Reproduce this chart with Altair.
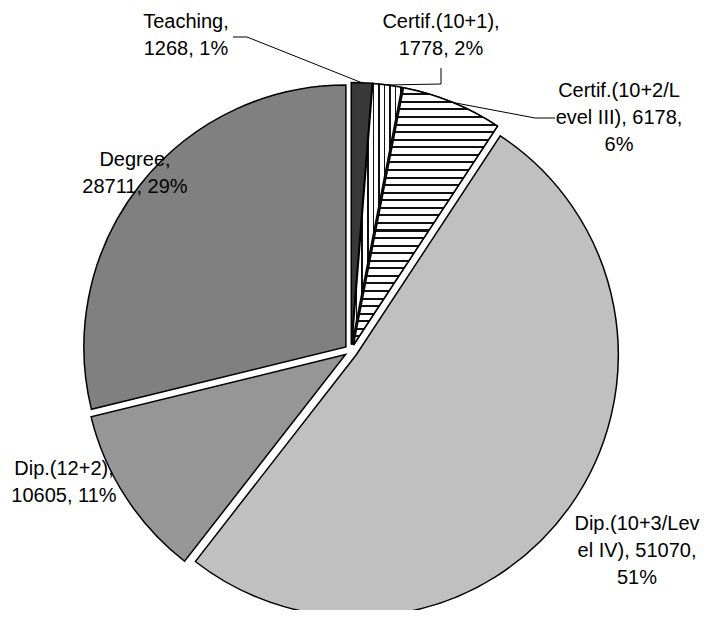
import math
import altair as alt
import pandas as pd

# ---------------- data ----------------
categories = ["Teaching", "Certif.(10+1)", "Certif.(10+2/Level III)",
              "Dip.(10+3/Level IV)", "Dip.(12+2)", "Degree"]
values = [1268, 1778, 6178, 51070, 10605, 28711]

# ---------------- styling / placement ----------------
fills = ["#383838", "#ffffff", "#ffffff", "#c0c0c0", "#969696", "#808080"]
label_breaks = [[9], [14], [14, 30], [13, 27], [11], [7]]
# first-baseline centre of each label, pixels relative to pie centre (up = +)
label_pos = [(-165, 323), (90, 323), (268, 254), (286, -179), (-287, -124), (-216, 185)]
# leader line points from the label side (pixels relative to centre), slice end is computed
leaders = {0: [(-118, 314), (-104, 314)], 1: [(90, 283), (90, 267)], 2: [(204, 233), (184, 233)]}

W, H = 693, 602
CX, CY = 343, 343
R = 262
EXPLODE = 6.5

total = sum(values)
pcts = [round(v / total * 100) for v in values]


def wrap(s, breaks):
    parts, prev = [], 0
    for b in breaks:
        parts.append(s[prev:b].strip())
        prev = b
    parts.append(s[prev:].strip())
    return "\n".join(parts)


df = pd.DataFrame({"cat": categories, "value": values, "order": list(range(len(values)))})

lab = pd.DataFrame({
    "cat": categories,
    "text": [wrap(f"{c}, {v}, {p}%", b) for c, v, p, b in zip(categories, values, pcts, label_breaks)],
    "lx": [p[0] for p in label_pos],
    "ly": [p[1] for p in label_pos],
})

rows = []
cum = 0
mids = []
for v in values:
    mids.append(2 * math.pi * (cum + v / 2) / total)
    cum += v
for i, pts in leaders.items():
    seq = 0
    for (px, py) in pts:
        rows.append({"cat": categories[i], "seq": seq, "px": px, "py": py})
        seq += 1
    rr = R + EXPLODE
    rows.append({"cat": categories[i], "seq": seq,
                 "px": rr * math.sin(mids[i]), "py": rr * math.cos(mids[i])})
lead = pd.DataFrame(rows)

xscale = alt.Scale(domain=[-CX, W - CX], range=[0, W], nice=False, zero=False)
yscale = alt.Scale(domain=[CY - H, CY], range=[H, 0], nice=False, zero=False)
tscale = alt.Scale(domain=[0, 1], range=[0, 2 * math.pi])


def stripes(n, frac, vertical):
    stops = []
    for i in range(n):
        a = i / n
        b = (i + 1 - frac) / n
        c = (i + 1) / n
        stops += [{"offset": a, "color": "#ffffff"}, {"offset": b, "color": "#ffffff"},
                  {"offset": b, "color": "#111111"}, {"offset": c, "color": "#111111"}]
    g = {"gradient": "linear", "stops": stops, "x1": 0, "y1": 0}
    if vertical:
        g.update({"x2": 1, "y2": 0})
    else:
        g.update({"x2": 0, "y2": 1})
    return g


base = (
    alt.Chart(df)
    .transform_joinaggregate(total="sum(value)")
    .transform_window(cum="sum(value)", sort=[alt.SortField("order")])
    .transform_calculate(
        start="(datum.cum - datum.value) / datum.total",
        end="datum.cum / datum.total",
        mid="PI * (2 * datum.cum - datum.value) / datum.total",
    )
    .transform_calculate(ox=f"{EXPLODE} * sin(datum.mid)", oy=f"{EXPLODE} * cos(datum.mid)")
)

enc = dict(
    x=alt.X("ox:Q", scale=xscale, axis=None),
    y=alt.Y("oy:Q", scale=yscale, axis=None),
    theta=alt.Theta("start:Q", scale=tscale, stack=False),
    theta2=alt.Theta2("end:Q"),
)

pie = base.mark_arc(radius=R, stroke="black", strokeWidth=1.5).encode(
    fill=alt.Fill("cat:N", scale=alt.Scale(domain=categories, range=fills), legend=None),
    **enc,
)

vstripe = base.transform_filter(alt.datum.cat == categories[1]).mark_arc(
    radius=R, stroke="black", strokeWidth=1.5, fill=stripes(9, 0.28, True)
).encode(**enc)

hstripe = base.transform_filter(alt.datum.cat == categories[2]).mark_arc(
    radius=R, stroke="black", strokeWidth=1.5, fill=stripes(34, 0.27, False)
).encode(**enc)

lines = alt.Chart(lead).mark_line(color="black", strokeWidth=1).encode(
    x=alt.X("px:Q", scale=xscale, axis=None),
    y=alt.Y("py:Q", scale=yscale, axis=None),
    detail="cat:N",
    order="seq:Q",
)

texts = alt.Chart(lab).mark_text(
    align="center", baseline="alphabetic", lineBreak="\n",
    font="Liberation Sans", fontSize=20, lineHeight=27, color="black",
).encode(
    x=alt.X("lx:Q", scale=xscale, axis=None),
    y=alt.Y("ly:Q", scale=yscale, axis=None),
    text="text:N",
)

chart = (
    alt.layer(pie, vstripe, hstripe, lines, texts)
    .properties(width=W, height=H, padding=0, autosize=alt.AutoSizeParams(type="none"))
    .configure_view(strokeWidth=0)
)

chart.save("out.html", embed_options={"renderer": "svg", "actions": False})
